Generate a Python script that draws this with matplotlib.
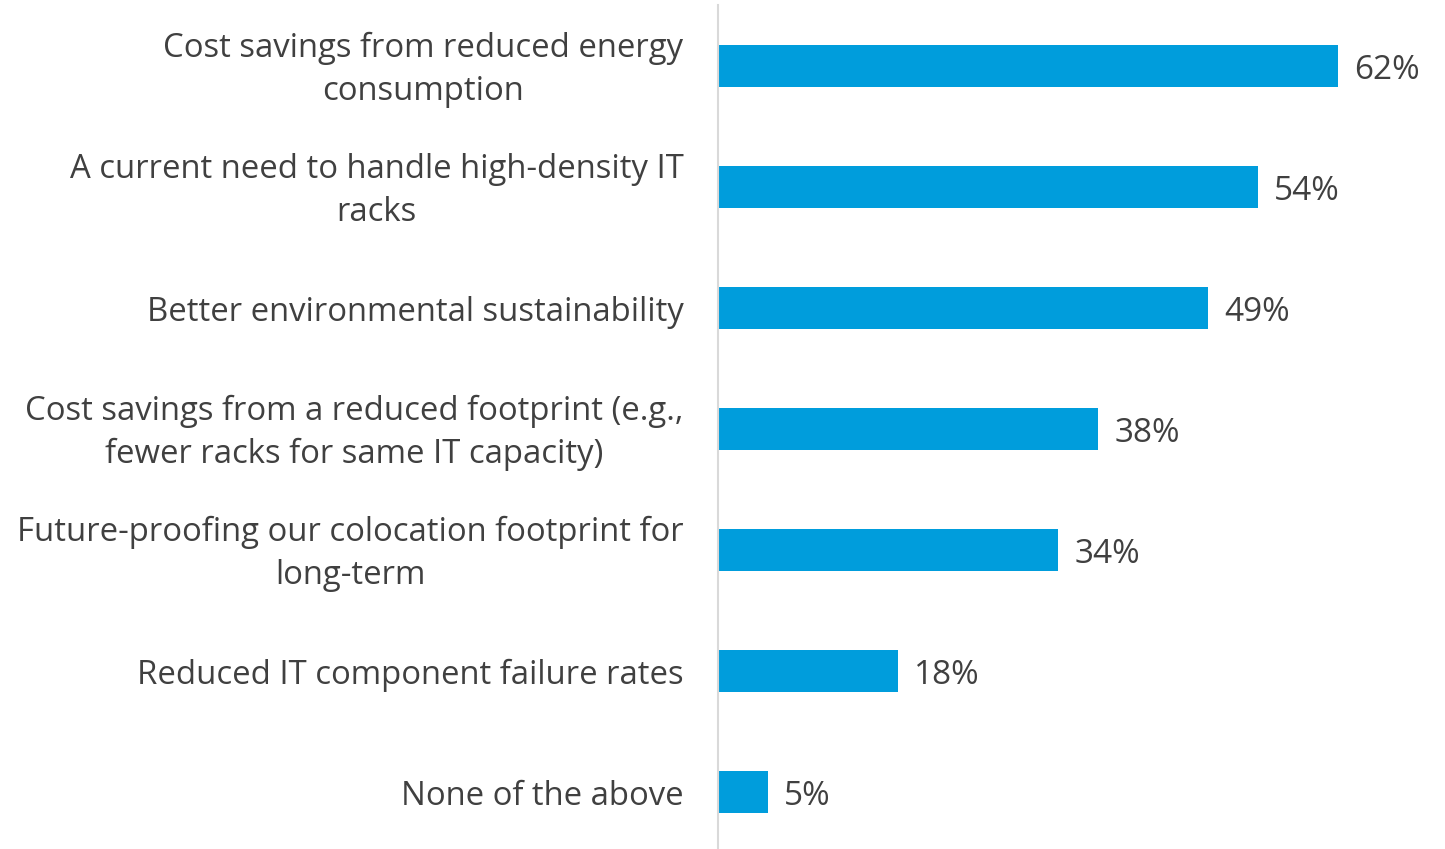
import matplotlib
matplotlib.use("Agg")
import matplotlib.pyplot as plt
from matplotlib.transforms import ScaledTranslation

categories = [
    "Cost savings from reduced energy\nconsumption",
    "A current need to handle high-density IT\nracks",
    "Better environmental sustainability",
    "Cost savings from a reduced footprint (e.g.,\nfewer racks for same IT capacity)",
    "Future-proofing our colocation footprint for\nlong-term",
    "Reduced IT component failure rates",
    "None of the above",
]
values = [62, 54, 49, 38, 34, 18, 5]

bar_color = "#009DDC"
text_color = "#404040"

plt.rcParams["font.family"] = ["Open Sans", "DejaVu Sans"]

fig = plt.figure(figsize=(14.45, 8.49), dpi=100)
ax = fig.add_axes([0.497, 0.0, 0.503, 0.994])

pos = list(range(len(values)))
ax.barh(pos, values, height=0.35, color=bar_color)

for p, v in zip(pos, values):
    ax.text(v + 1.6, p + 0.04, "{}%".format(v), va="center", ha="left",
            fontsize=24, color=text_color)

ax.set_xlim(0, 72.7)
ax.set_ylim(6.47, -0.504)
ax.set_yticks(pos)
ax.set_yticklabels(categories, fontsize=23.7, color=text_color,
                   ha="right", multialignment="center", linespacing=1.4)
ax.tick_params(axis="y", length=0, pad=25)
ax.set_xticks([])

# two-line labels sit a little high in the original
for lab in ax.get_yticklabels():
    if "\n" in lab.get_text():
        lab.set_transform(lab.get_transform() +
                          ScaledTranslation(0, 0.05, fig.dpi_scale_trans))

for s in ["top", "right", "bottom"]:
    ax.spines[s].set_visible(False)
ax.spines["left"].set_color("#D9D9D9")
ax.spines["left"].set_linewidth(1.5)

fig.savefig("out.png", dpi=100)
